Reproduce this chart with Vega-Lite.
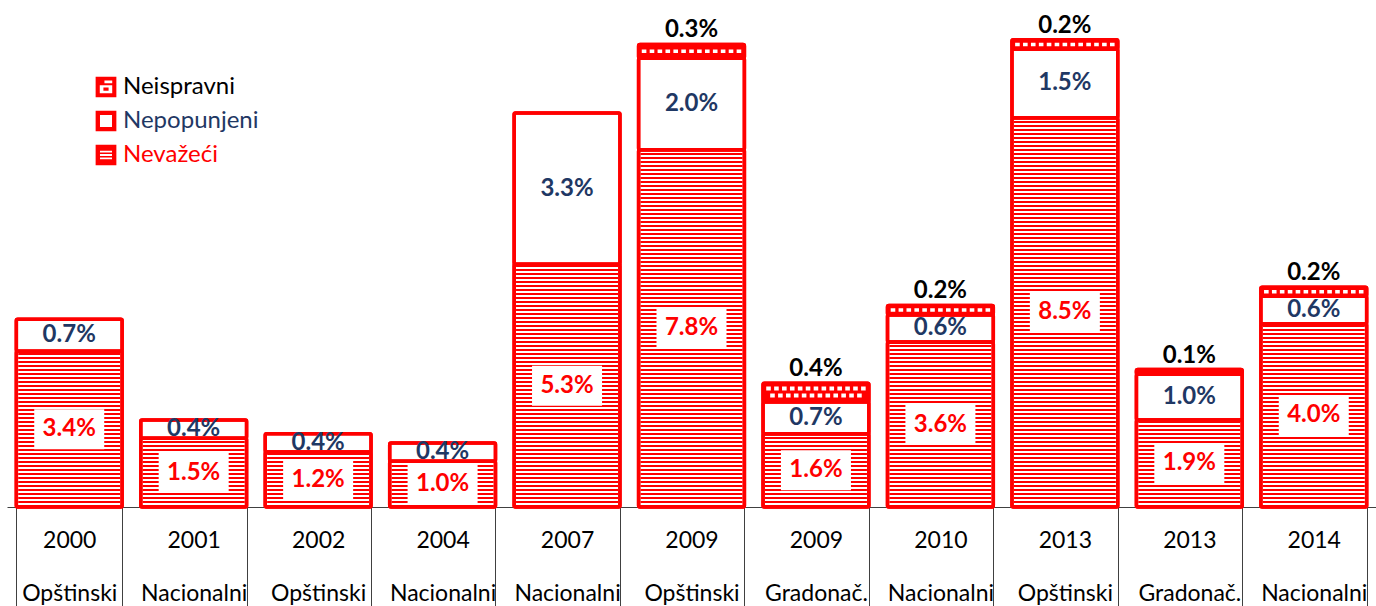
{
  "$schema": "https://vega.github.io/schema/vega-lite/v6.json",
  "autosize": "none",
  "width": 1369,
  "height": 507,
  "padding": {"left": 7, "top": 0, "right": 0, "bottom": 99},
  "background": "#FFFFFF",
  "config": {
    "view": {"stroke": null},
    "font": "Lato",
    "axis": {"labelFont": "Lato"},
    "legend": {"labelFont": "Lato"}
  },
  "data": {
    "values": [
      {"key": "2000|Opštinski", "kind": "Nevažeći", "value": 3.4},
      {"key": "2000|Opštinski", "kind": "Nepopunjeni", "value": 0.7},
      {"key": "2001|Nacionalni", "kind": "Nevažeći", "value": 1.5},
      {"key": "2001|Nacionalni", "kind": "Nepopunjeni", "value": 0.4},
      {"key": "2002|Opštinski", "kind": "Nevažeći", "value": 1.2},
      {"key": "2002|Opštinski", "kind": "Nepopunjeni", "value": 0.4},
      {"key": "2004|Nacionalni", "kind": "Nevažeći", "value": 1.0},
      {"key": "2004|Nacionalni", "kind": "Nepopunjeni", "value": 0.4},
      {"key": "2007|Nacionalni", "kind": "Nevažeći", "value": 5.3},
      {"key": "2007|Nacionalni", "kind": "Nepopunjeni", "value": 3.3},
      {"key": "2009|Opštinski", "kind": "Nevažeći", "value": 7.8},
      {"key": "2009|Opštinski", "kind": "Nepopunjeni", "value": 2.0},
      {"key": "2009|Opštinski", "kind": "Neispravni", "value": 0.3},
      {"key": "2009|Gradonač.", "kind": "Nevažeći", "value": 1.6},
      {"key": "2009|Gradonač.", "kind": "Nepopunjeni", "value": 0.7},
      {"key": "2009|Gradonač.", "kind": "Neispravni", "value": 0.4},
      {"key": "2010|Nacionalni", "kind": "Nevažeći", "value": 3.6},
      {"key": "2010|Nacionalni", "kind": "Nepopunjeni", "value": 0.6},
      {"key": "2010|Nacionalni", "kind": "Neispravni", "value": 0.2},
      {"key": "2013|Opštinski", "kind": "Nevažeći", "value": 8.5},
      {"key": "2013|Opštinski", "kind": "Nepopunjeni", "value": 1.5},
      {"key": "2013|Opštinski", "kind": "Neispravni", "value": 0.2},
      {"key": "2013|Gradonač.", "kind": "Nevažeći", "value": 1.9},
      {"key": "2013|Gradonač.", "kind": "Nepopunjeni", "value": 1.0},
      {"key": "2013|Gradonač.", "kind": "Neispravni", "value": 0.1},
      {"key": "2014|Nacionalni", "kind": "Nevažeći", "value": 4.0},
      {"key": "2014|Nacionalni", "kind": "Nepopunjeni", "value": 0.6},
      {"key": "2014|Nacionalni", "kind": "Neispravni", "value": 0.2}
    ]
  },
  "transform": [
    {"stack": "value", "groupby": ["key"], "sort": [{"field": "kind", "order": "descending"}], "as": ["v0", "v1"]},
    {"calculate": "(datum.v0 + datum.v1) / 2", "as": "mid"},
    {"calculate": "format(datum.value, '.1f') + '%'", "as": "lbl"}
  ],
  "encoding": {
    "x": {
      "field": "key",
      "type": "nominal",
      "sort": null,
      "scale": {"paddingInner": 0.15, "paddingOuter": 0.075},
      "axis": {
        "title": null,
        "labelExpr": "split(datum.label, '|')",
        "labelAngle": 0,
        "labelFont": "Lato",
        "labelFontSize": 23,
        "labelColor": "#000000",
        "labelBaseline": "middle",
        "labelLineHeight": 53,
        "labelPadding": -67,
        "labelOverlap": false,
        "labelLimit": 0,
        "tickBand": "extent",
        "tickSize": 100,
        "tickColor": "#404040",
        "tickWidth": 1,
        "domainColor": "#404040",
        "domainWidth": 1,
        "grid": false
      }
    }
  },
  "layer": [
    {
      "mark": {"type": "bar", "stroke": "#FF0000", "strokeWidth": 3.5, "cornerRadius": 1.5},
      "encoding": {
        "y": {"field": "v0", "type": "quantitative", "scale": {"domain": [0, 11.07], "nice": false, "zero": true}, "axis": null},
        "y2": {"field": "v1"},
        "fill": {"condition": {"test": "datum.kind === 'Neispravni'", "value": "#FF0000"}, "value": "#FFFFFF"}
      }
    },
    {
      "mark": {"type": "point", "filled": true, "fill": "#FF0000", "strokeWidth": 0, "size": 0},
      "encoding": {
        "y": {"field": "mid", "type": "quantitative"},
        "shape": {
          "field": "kind",
          "type": "nominal",
          "scale": {
            "domain": ["Neispravni", "Nepopunjeni", "Nevažeći"],
            "range": [
              "M-1,-1H1V1H-1Z M-0.15,-0.62V-0.36H0.6V-0.62Z M-0.6,-0.18V0.6H0.6V-0.18Z M-0.25,0.05H0.25V0.35H-0.25Z",
              "M-1,-1H1V1H-1Z M-0.58,-0.58V0.58H0.58V-0.58Z",
              "M-1,-1H1V1H-1Z M-0.58,-0.42V-0.24H0.58V-0.42Z M-0.58,-0.09V0.09H0.58V-0.09Z M-0.58,0.24V0.42H0.58V0.24Z"
            ]
          },
          "legend": {
            "title": null,
            "orient": "none",
            "legendX": 87,
            "legendY": 75,
            "padding": 0,
            "labelFont": "Lato",
            "labelFontSize": 24,
            "labelOffset": 5,
            "labelColor": {"expr": "datum.value === 'Neispravni' ? '#000000' : (datum.value === 'Nepopunjeni' ? '#1F3864' : '#FF0000')"},
            "symbolSize": 430,
            "symbolFillColor": "#FF0000",
            "symbolStrokeColor": "transparent",
            "symbolStrokeWidth": 0,
            "symbolOpacity": 1,
            "rowPadding": 10
          }
        }
      }
    },
    {
      "transform": [{"filter": "datum.kind === 'Nevažeći'"}],
      "mark": {"type": "rule", "stroke": "#FF0000", "strokeWidth": 102, "strokeDash": [2, 2], "strokeCap": "butt"},
      "encoding": {
        "y": {"field": "v0", "type": "quantitative"},
        "y2": {"field": "v1"}
      }
    },
    {
      "transform": [{"filter": "datum.kind === 'Neispravni' && datum.value >= 0.15 && datum.value < 0.35"}],
      "mark": {
        "type": "point",
        "filled": true,
        "fill": "#FFFFFF",
        "opacity": 1,
        "strokeWidth": 0,
        "size": 10404,
        "shape": "M-0.975,-0.035h0.09v0.07h-0.09Z M-0.82,-0.035h0.09v0.07h-0.09Z M-0.665,-0.035h0.09v0.07h-0.09Z M-0.51,-0.035h0.09v0.07h-0.09Z M-0.355,-0.035h0.09v0.07h-0.09Z M-0.2,-0.035h0.09v0.07h-0.09Z M-0.045,-0.035h0.09v0.07h-0.09Z M0.11,-0.035h0.09v0.07h-0.09Z M0.265,-0.035h0.09v0.07h-0.09Z M0.42,-0.035h0.09v0.07h-0.09Z M0.575,-0.035h0.09v0.07h-0.09Z M0.73,-0.035h0.09v0.07h-0.09Z M0.885,-0.035h0.09v0.07h-0.09Z"
      },
      "encoding": {"y": {"field": "mid", "type": "quantitative"}}
    },
    {
      "transform": [{"filter": "datum.kind === 'Neispravni' && datum.value >= 0.35"}],
      "mark": {
        "type": "point",
        "filled": true,
        "fill": "#FFFFFF",
        "opacity": 1,
        "strokeWidth": 0,
        "size": 10404,
        "shape": "M-0.975,-0.12h0.09v0.08h-0.09Z M-0.82,-0.12h0.09v0.08h-0.09Z M-0.665,-0.12h0.09v0.08h-0.09Z M-0.51,-0.12h0.09v0.08h-0.09Z M-0.355,-0.12h0.09v0.08h-0.09Z M-0.2,-0.12h0.09v0.08h-0.09Z M-0.045,-0.12h0.09v0.08h-0.09Z M0.11,-0.12h0.09v0.08h-0.09Z M0.265,-0.12h0.09v0.08h-0.09Z M0.42,-0.12h0.09v0.08h-0.09Z M0.575,-0.12h0.09v0.08h-0.09Z M0.73,-0.12h0.09v0.08h-0.09Z M0.885,-0.12h0.09v0.08h-0.09Z M-0.8975,0.02h0.09v0.08h-0.09Z M-0.7425,0.02h0.09v0.08h-0.09Z M-0.5875,0.02h0.09v0.08h-0.09Z M-0.4325,0.02h0.09v0.08h-0.09Z M-0.2775,0.02h0.09v0.08h-0.09Z M-0.1225,0.02h0.09v0.08h-0.09Z M0.0325,0.02h0.09v0.08h-0.09Z M0.1875,0.02h0.09v0.08h-0.09Z M0.3425,0.02h0.09v0.08h-0.09Z M0.4975,0.02h0.09v0.08h-0.09Z M0.6525,0.02h0.09v0.08h-0.09Z M0.8075,0.02h0.09v0.08h-0.09Z"
      },
      "encoding": {"y": {"field": "mid", "type": "quantitative"}}
    },
    {
      "transform": [{"filter": "datum.kind === 'Nevažeći'"}],
      "mark": {"type": "point", "filled": true, "fill": "#FFFFFF", "opacity": 1, "strokeWidth": 0, "size": 4900, "shape": "M-1,-0.5714H1V0.5714H-1Z"},
      "encoding": {"y": {"field": "mid", "type": "quantitative"}}
    },
    {
      "mark": {"type": "bar", "filled": false, "stroke": "#FF0000", "strokeWidth": 3.5, "cornerRadius": 1.5},
      "encoding": {
        "y": {"field": "v0", "type": "quantitative"},
        "y2": {"field": "v1"}
      }
    },
    {
      "transform": [{"filter": "datum.kind === 'Nevažeći'"}],
      "mark": {"type": "text", "font": "Lato", "fontSize": 24, "fontWeight": "bold", "fill": "#FF0000", "baseline": "middle", "align": "center"},
      "encoding": {"y": {"field": "mid", "type": "quantitative"}, "text": {"field": "lbl"}}
    },
    {
      "transform": [{"filter": "datum.kind === 'Nepopunjeni'"}],
      "mark": {"type": "text", "font": "Lato", "fontSize": 24, "fontWeight": "bold", "fill": "#1F3864", "baseline": "middle", "align": "center"},
      "encoding": {"y": {"field": "mid", "type": "quantitative"}, "text": {"field": "lbl"}}
    },
    {
      "transform": [{"filter": "datum.kind === 'Neispravni'"}],
      "mark": {"type": "text", "font": "Lato", "fontSize": 24, "fontWeight": "bold", "fill": "#000000", "baseline": "alphabetic", "align": "center", "dy": -7},
      "encoding": {"y": {"field": "v1", "type": "quantitative"}, "text": {"field": "lbl"}}
    }
  ]
}
